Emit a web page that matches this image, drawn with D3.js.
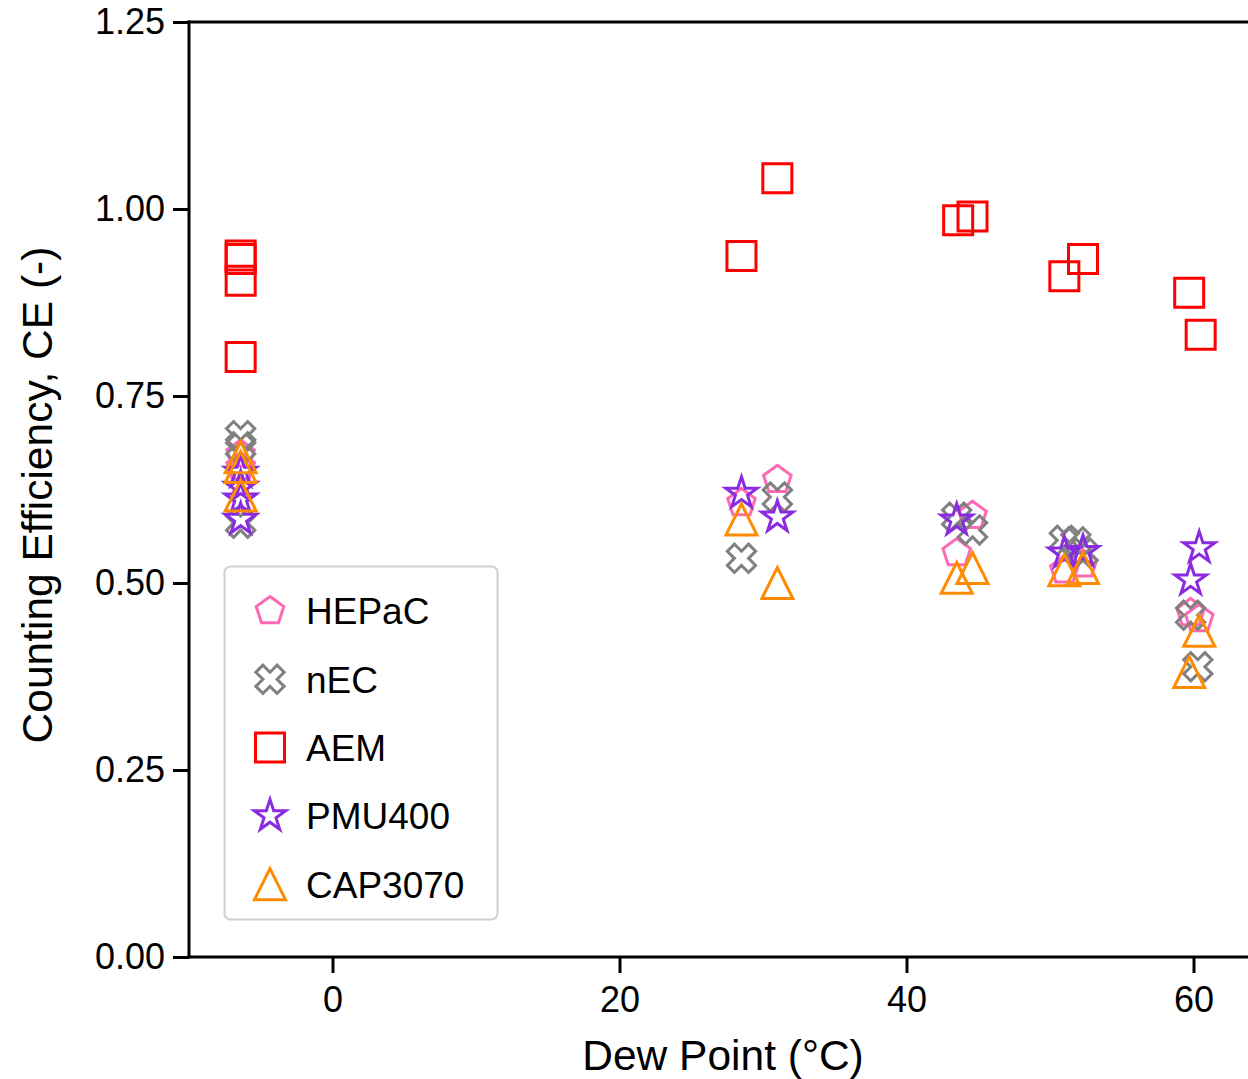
<!DOCTYPE html>
<html><head><meta charset="utf-8">
<script src="https://cdn.jsdelivr.net/npm/d3@7"></script>
<style>body{margin:0;background:#fff;overflow:hidden}text{font-family:"Liberation Sans",Arial,sans-serif;fill:#000}</style>
</head><body>
<svg id="c" width="1248" height="1079"></svg>
<script>
const seriesNames = ["HEPaC","nEC","AEM","PMU400","CAP3070"];
const seriesColors = ["#ff69b4","#808080","#ff0000","#8a2be2","#ff8c00"];
const hepacX = [-6.4,-6.4,28.5,31.0,43.5,44.6,51.0,52.3,59.8,60.4];
const hepacY = [0.672,0.655,0.607,0.638,0.54,0.59,0.517,0.525,0.46,0.452];
const necX = [-6.4,-6.4,-6.4,28.5,31.0,43.5,44.6,51.0,51.8,52.3,59.8,60.3];
const necY = [0.697,0.682,0.58,0.533,0.615,0.588,0.571,0.557,0.555,0.54,0.457,0.388];
const aemX = [-6.4,-6.4,-6.4,-6.4,28.5,31.0,43.6,44.6,51.0,52.3,59.7,60.5];
const aemY = [0.938,0.933,0.904,0.802,0.937,1.041,0.985,0.99,0.91,0.933,0.888,0.832];
const pmuX = [-6.4,-6.4,-6.4,-6.4,28.5,31.0,43.5,51.0,52.3,59.8,60.4];
const pmuY = [0.648,0.628,0.612,0.585,0.62,0.588,0.584,0.54,0.542,0.504,0.547];
const capX = [-6.4,-6.4,-6.4,28.5,31.0,43.5,44.6,51.0,52.3,59.7,60.4];
const capY = [0.668,0.655,0.617,0.585,0.50,0.507,0.52,0.517,0.52,0.381,0.436];
const xTicks = [0,20,40,60];
const yTicks = [0,0.25,0.5,0.75,1.0,1.25];

const seriesX = [hepacX,necX,aemX,pmuX,capX];
const seriesY = [hepacY,necY,aemY,pmuY,capY];

const svg = d3.select("#c");
const x = d3.scaleLinear().domain([-10,65]).range([189,189+75*14.35]);
const y = d3.scaleLinear().domain([0,1.25]).range([957,22]);

function poly(pts){return "M"+pts.map(p=>p[0].toFixed(2)+","+p[1].toFixed(2)).join("L")+"Z";}
function pentagon(r){const p=[];for(let i=0;i<5;i++){const a=-Math.PI/2+i*2*Math.PI/5;p.push([r*Math.cos(a),r*Math.sin(a)]);}return poly(p);}
function star(r){const p=[];const ri=r*0.381966;for(let i=0;i<10;i++){const a=-Math.PI/2+i*Math.PI/5;const rr=i%2?ri:r;p.push([rr*Math.cos(a),rr*Math.sin(a)]);}return poly(p);}
function square(h){return poly([[-h,-h],[h,-h],[h,h],[-h,h]]);}
function triangle(h){return poly([[0,-h],[h,h],[-h,h]]);}
function xfilled(u){const base=[[-1,-3],[1,-3],[1,-1],[3,-1],[3,1],[1,1],[1,3],[-1,3],[-1,1],[-3,1],[-3,-1],[-1,-1]];
  const c=Math.cos(Math.PI/4),s=Math.sin(Math.PI/4);
  return poly(base.map(([a,b])=>[u*(a*c-b*s),u*(a*s+b*c)]));}
const markerPaths = [pentagon(14.5), xfilled(5.0), square(14.5), star(16.5), triangle(15.5)];

const gx = svg.append("g").attr("transform","translate(0,957)")
  .call(d3.axisBottom(x).tickValues(xTicks).tickSize(16).tickPadding(13).tickFormat(d3.format("d")));
const gy = svg.append("g").attr("transform","translate(189,0)")
  .call(d3.axisLeft(y).tickValues(yTicks).tickSize(16).tickPadding(8).tickFormat(d3.format(".2f")));
[gx,gy].forEach(g=>{
  g.select(".domain").remove();
  g.selectAll(".tick line").attr("stroke","#000").attr("stroke-width",3);
  g.selectAll(".tick text").attr("font-size",36).attr("font-family","Liberation Sans, Arial, sans-serif").attr("fill","#000");
});
svg.append("line").attr("x1",189).attr("x2",189).attr("y1",y(1.25)-1.5).attr("y2",y(0)+1.5).attr("stroke","#000").attr("stroke-width",3);
svg.append("line").attr("x1",187.5).attr("x2",1300).attr("y1",y(0)).attr("y2",y(0)).attr("stroke","#000").attr("stroke-width",3);
svg.append("line").attr("x1",187.5).attr("x2",1300).attr("y1",y(1.25)).attr("y2",y(1.25)).attr("stroke","#000").attr("stroke-width",3);

seriesNames.forEach((n,i)=>{
  svg.append("g").selectAll("path").data(seriesX[i].map((v,j)=>[v,seriesY[i][j]])).join("path")
    .attr("d",markerPaths[i])
    .attr("transform",d=>`translate(${x(d[0])},${y(d[1])})`)
    .attr("fill","none").attr("stroke",seriesColors[i]).attr("stroke-width",3)
    .attr("stroke-linejoin","miter").attr("stroke-miterlimit",10);
});

svg.append("text").attr("x",723).attr("y",1070).attr("text-anchor","middle").attr("font-size",42.5).text("Dew Point (°C)");
svg.append("text").attr("transform","translate(52,495) rotate(-90)").attr("text-anchor","middle").attr("font-size",42.5).text("Counting Efficiency, CE (-)");

const lg = svg.append("g");
lg.append("rect").attr("x",224.5).attr("y",566.5).attr("width",273).attr("height",353).attr("rx",6)
  .attr("fill","#fff").attr("fill-opacity",0.8).attr("stroke","#d0d0d0").attr("stroke-width",2);
seriesNames.forEach((n,i)=>{
  const cy = 611 + i*68.3;
  lg.append("path").attr("d",markerPaths[i]).attr("transform",`translate(270,${cy})`)
    .attr("fill","none").attr("stroke",seriesColors[i]).attr("stroke-width",3).attr("stroke-miterlimit",10);
  lg.append("text").attr("x",306).attr("y",cy).attr("dy","0.36em").attr("font-size",37).text(n);
});
</script>
</body></html>
